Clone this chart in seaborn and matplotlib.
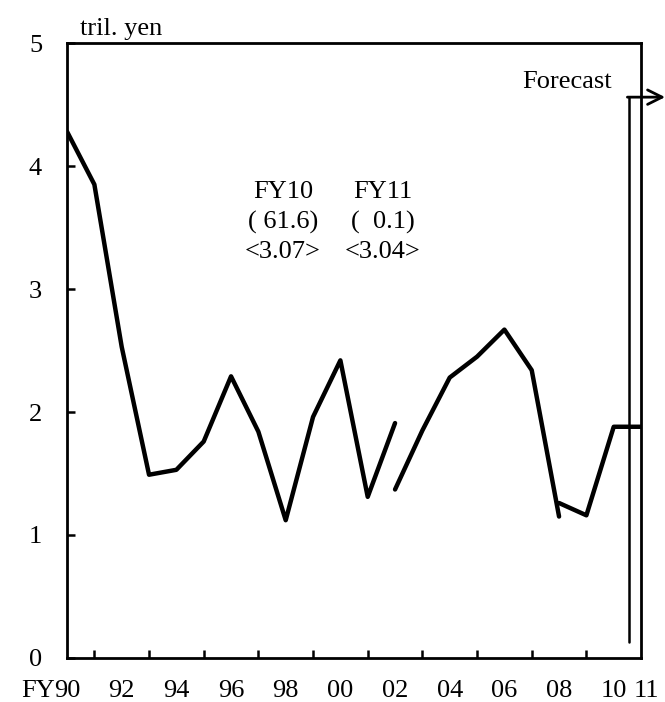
import numpy as np
import pandas as pd
import matplotlib.pyplot as plt
import matplotlib.transforms as mtransforms
import seaborn as sns

sns.set_style("ticks")
plt.rcParams['font.family'] = ['Liberation Serif', 'DejaVu Serif']
plt.rcParams['text.color'] = 'black'
plt.rcParams['xtick.color'] = 'black'
plt.rcParams['ytick.color'] = 'black'
plt.rcParams['axes.edgecolor'] = 'black'

# fiscal years as index: 0 = FY90 ... 21 = FY11
seg1_x = [0, 1, 2, 3, 4, 5, 6, 7, 8, 9, 10, 11, 12]
seg1_y = [4.28, 3.85, 2.53, 1.49, 1.53, 1.76, 2.29, 1.84, 1.12, 1.96, 2.42, 1.31, 1.91]
seg2_x = [12, 13, 14, 15, 16, 17, 18]
seg2_y = [1.37, 1.85, 2.28, 2.45, 2.67, 2.34, 1.15]
seg3_x = [18, 19, 20, 21]
seg3_y = [1.26, 1.16, 1.88, 1.88]

tick_pos = [0, 2, 4, 6, 8, 10, 12, 14, 16, 18, 20, 21]
tick_labels = ["90", "92", "94", "96", "98", "00", "02", "04", "06", "08", "10", "11"]

note_fy = ["FY10", "FY11"]
note_growth = ["( 61.6)", "(  0.1)"]
note_level = ["<3.07>", "<3.04>"]
note_x = [7.9, 11.55]

df = pd.concat([
    pd.DataFrame({"fy": seg1_x, "val": seg1_y, "seg": 1}),
    pd.DataFrame({"fy": seg2_x, "val": seg2_y, "seg": 2}),
    pd.DataFrame({"fy": seg3_x, "val": seg3_y, "seg": 3}),
])

fig = plt.figure(figsize=(6.65, 7.02), dpi=100)
ax = fig.add_axes([0.1008, 0.0627, 0.8632, 0.876])

sns.lineplot(data=df, x="fy", y="val", units="seg", estimator=None,
             color="black", linewidth=3.2, ax=ax, legend=False,
             solid_capstyle="round", solid_joinstyle="round")

fs = 19
ax.set_xticks(tick_pos)
ax.set_xticklabels(tick_labels, fontsize=fs)
ax.set_xticks(range(1, 21), minor=True)
ax.tick_params(axis="x", which="major", length=0, pad=16)
ax.tick_params(axis="x", which="minor", direction="in", length=6, width=1.8)
ax.set_yticks(range(0, 6))
ax.tick_params(axis="y", direction="in", length=6, width=1.8, pad=18, labelsize=fs)
ax.set_xlim(0, 21)
ax.set_ylim(0, 5)
ax.set_xlabel("")
ax.set_ylabel("")

# nudge the "11" label a little to the right
lab11 = ax.get_xticklabels()[-1]
lab11.set_transform(lab11.get_transform() +
                    mtransforms.ScaledTranslation(5 / 100, 0, fig.dpi_scale_trans))

for s in ax.spines.values():
    s.set_linewidth(2.0)
    s.set_visible(True)

# "FY" prefix before 90
ax.annotate("FY", xy=(0, 0), xycoords=("data", "axes fraction"),
            xytext=(-9, -16), textcoords="offset points",
            ha="right", va="top", fontsize=fs)

ax.text(0.094, 1.005, "tril. yen", transform=ax.transAxes,
        ha="center", va="bottom", fontsize=fs)

for i in range(2):
    ax.text(note_x[i], 3.79, note_fy[i], ha="center", va="center", fontsize=fs)
    ax.text(note_x[i], 3.54, note_growth[i], ha="center", va="center", fontsize=fs)
    ax.text(note_x[i], 3.30, note_level[i], ha="center", va="center", fontsize=fs)

# forecast marker
ax.plot([20.55, 20.55], [0.13, 4.56], color="black", linewidth=1.8, clip_on=False)
ax.annotate("", xy=(21.88, 4.56), xytext=(20.5, 4.56),
            arrowprops=dict(arrowstyle="->", color="black", lw=2.0,
                            mutation_scale=26, shrinkA=0, shrinkB=0),
            annotation_clip=False)
ax.text(18.3, 4.68, "Forecast", ha="center", va="center", fontsize=fs)

fig.savefig("out.png", dpi=100)
